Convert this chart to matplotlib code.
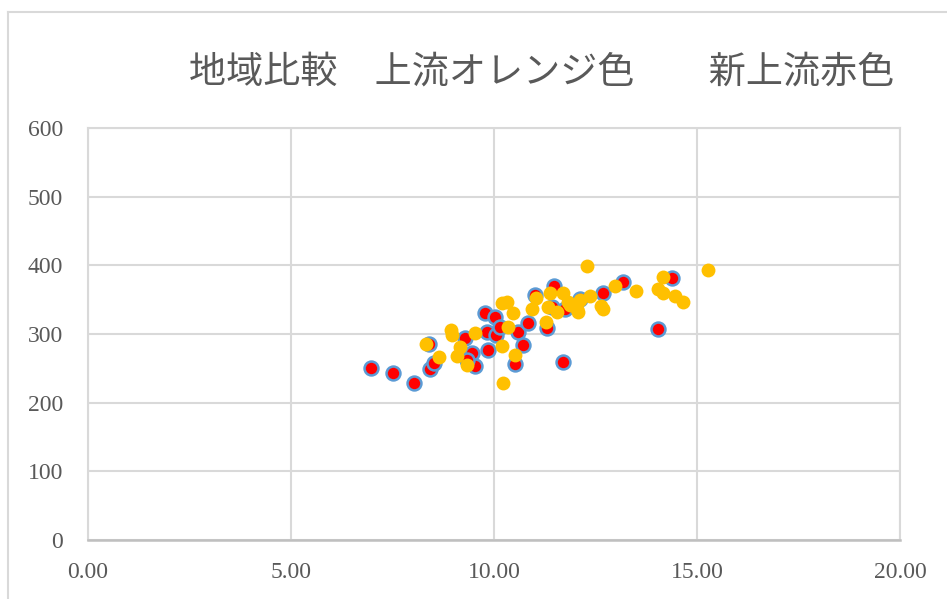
import matplotlib
matplotlib.use("Agg")
import matplotlib.pyplot as plt
from matplotlib.lines import Line2D

# 新上流 (red)
new_x = [6.97, 7.51, 8.03, 8.42, 8.52, 8.40, 9.29, 9.46, 9.53, 9.33,
         9.78, 10.02, 9.82, 9.85, 10.05, 10.15, 10.52, 10.59, 10.71, 10.84,
         11.01, 11.48, 11.30, 11.43, 11.75, 11.70, 12.12, 12.68, 13.18, 14.38,
         14.04]
new_y = [250, 243, 229, 249, 258, 286, 294, 272, 254, 262,
         331, 325, 303, 277, 298, 310, 257, 303, 284, 316,
         357, 370, 309, 339, 336, 259, 351, 359, 376, 382,
         307]

# 上流 (orange)
up_x = [8.33, 8.65, 8.94, 8.97, 9.16, 9.08, 9.33, 9.53, 10.20, 10.33,
        10.47, 10.34, 10.20, 10.52, 10.22, 10.94, 11.03, 11.38, 11.33, 11.55,
        11.28, 11.70, 11.82, 11.87, 12.04, 12.07, 12.12, 12.36, 12.29, 12.64,
        12.68, 12.98, 13.50, 14.04, 14.16, 14.16, 14.46, 14.66, 15.27]
up_y = [285, 267, 306, 298, 281, 268, 255, 301, 345, 347,
        330, 310, 282, 270, 229, 336, 352, 360, 339, 332,
        317, 360, 347, 342, 336, 332, 349, 356, 399, 341,
        336, 370, 363, 365, 383, 360, 355, 347, 393]

x_ticks = [0, 5, 10, 15, 20]
y_ticks = [0, 100, 200, 300, 400, 500, 600]

title = "地域比較\u3000上流オレンジ色\u3000\u3000新上流赤色"

grid_c = "#d9d9d9"
text_c = "#595959"

fig = plt.figure(figsize=(9.47, 5.99), dpi=100)
ax = fig.add_axes([0.0929, 0.0985, 0.8575, 0.6878])

ax.plot(new_x, new_y, linestyle="none", marker="o", markersize=10,
        markerfacecolor="#ff0000", markeredgecolor="#5b9bd5",
        markeredgewidth=1.8, zorder=3)
ax.plot(up_x, up_y, linestyle="none", marker="o", markersize=10,
        markerfacecolor="#ffc000", markeredgecolor="#ffc000",
        markeredgewidth=0, zorder=4)

ax.set_xlim(0, 20)
ax.set_ylim(0, 600)
ax.set_xticks(x_ticks)
ax.set_yticks(y_ticks)
ax.set_xticklabels([f"{v:.2f}" for v in x_ticks])
ax.set_yticklabels([str(v) for v in y_ticks])
ax.grid(True, color=grid_c, linewidth=1.5)
ax.set_axisbelow(True)
for side in ["top", "right", "left"]:
    ax.spines[side].set_color(grid_c)
    ax.spines[side].set_linewidth(1.5)
ax.spines["bottom"].set_color("#bfbfbf")
ax.spines["bottom"].set_linewidth(1.8)

ax.tick_params(axis="both", length=0, labelsize=17, labelcolor=text_c)
ax.tick_params(axis="y", pad=18)
ax.tick_params(axis="x", pad=16)
for lab in ax.get_xticklabels() + ax.get_yticklabels():
    lab.set_family("Liberation Serif")

fig.text(0.572, 0.88, title, ha="center", va="center", fontsize=26.7,
         color=text_c, family=["Noto Sans CJK JP", "DejaVu Sans"])

# outer chart frame, top and left edges
fig.add_artist(Line2D([8 / 947, 1], [1 - 12 / 599, 1 - 12 / 599],
                      transform=fig.transFigure, color=grid_c, linewidth=1.5))
fig.add_artist(Line2D([8 / 947, 8 / 947], [0, 1 - 12 / 599],
                      transform=fig.transFigure, color=grid_c, linewidth=1.5))

fig.savefig("out.png", dpi=100)
